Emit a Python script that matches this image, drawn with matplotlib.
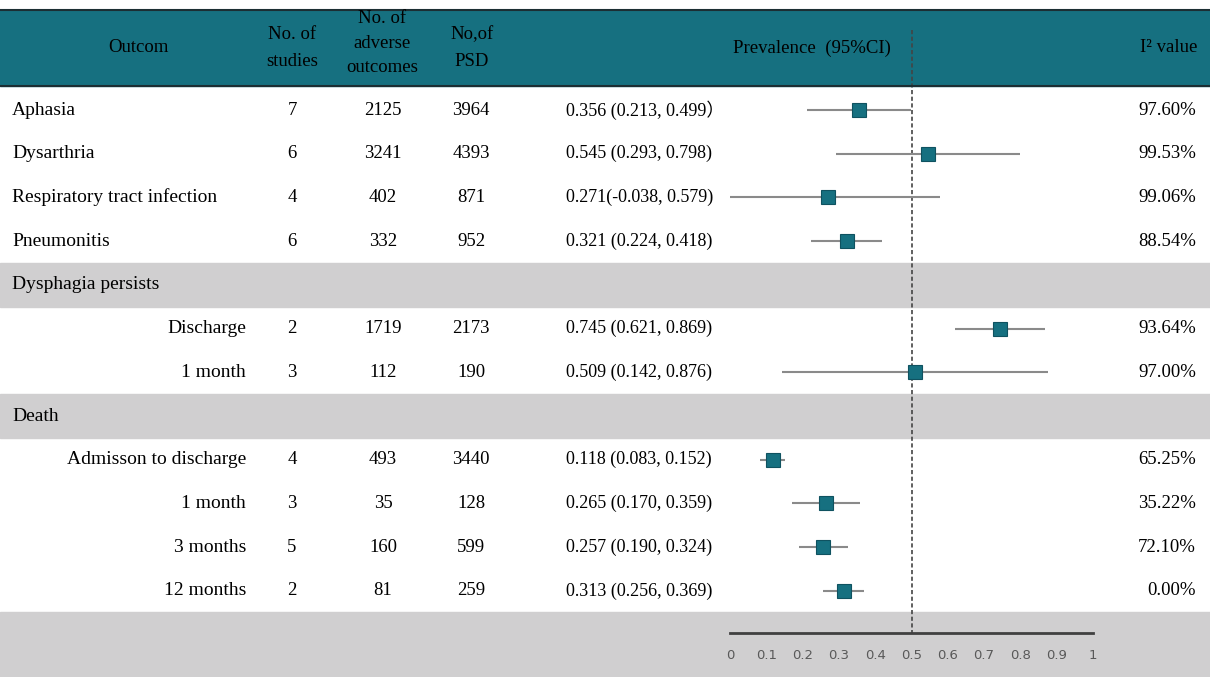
import matplotlib.pyplot as plt
import numpy as np

# table data
outcomes = ['Aphasia', 'Dysarthria', 'Respiratory tract infection', 'Pneumonitis',
            'Dysphagia persists', 'Discharge', '1 month',
            'Death', 'Admisson to discharge', '1 month', '3 months', '12 months']
is_group = [False, False, False, False, True, False, False, True, False, False, False, False]
is_sub = [False, False, False, False, False, True, True, False, True, True, True, True]
studies = ['7', '6', '4', '6', '', '2', '3', '', '4', '3', '5', '2']
adverse = ['2125', '3241', '402', '332', '', '1719', '112', '', '493', '35', '160', '81']
psd = ['3964', '4393', '871', '952', '', '2173', '190', '', '3440', '128', '599', '259']
ci_text = ['0.356 (0.213, 0.499\uff09', '0.545 (0.293, 0.798)', '0.271(-0.038, 0.579)',
           '0.321 (0.224, 0.418)', '', '0.745 (0.621, 0.869)', '0.509 (0.142, 0.876)', '',
           '0.118 (0.083, 0.152)', '0.265 (0.170, 0.359)', '0.257 (0.190, 0.324)',
           '0.313 (0.256, 0.369)']
est = [0.356, 0.545, 0.271, 0.321, np.nan, 0.745, 0.509, np.nan, 0.118, 0.265, 0.257, 0.313]
lo = [0.213, 0.293, -0.038, 0.224, np.nan, 0.621, 0.142, np.nan, 0.083, 0.170, 0.190, 0.256]
hi = [0.499, 0.798, 0.579, 0.418, np.nan, 0.869, 0.876, np.nan, 0.152, 0.359, 0.324, 0.369]
i2 = ['97.60%', '99.53%', '99.06%', '88.54%', '', '93.64%', '97.00%', '',
      '65.25%', '35.22%', '72.10%', '0.00%']
ticks = [0, 0.1, 0.2, 0.3, 0.4, 0.5, 0.6, 0.7, 0.8, 0.9, 1]
tick_labels = ['0', '0.1', '0.2', '0.3', '0.4', '0.5', '0.6', '0.7', '0.8', '0.9', '1']

teal = '#167080'
band = '#d0cfd0'
serif = ['Liberation Serif', 'Noto Sans CJK SC']

fig = plt.figure(figsize=(12.1, 6.77), dpi=100, facecolor='white')
ax = fig.add_axes([0, 0, 1, 1])
ax.set_axis_off()

# x in prevalence units (0 -> px 730, 1 -> px 1093), y in row units
def px(p):
    return (p - 730) / 363.0

ax.set_xlim(px(0), px(1210))
ax.set_ylim(12.97, -2.517)

n = len(outcomes)
rows = np.arange(n)

# header band
ax.axhspan(-2.29, -0.55, color=teal, zorder=0)
ax.axhline(-2.29, color='#1c2e33', lw=1.5, zorder=1)
ax.axhline(-0.55, color='#1c2e33', lw=1.5, zorder=4)

# grey group bands and bottom band
for i in rows:
    if is_group[i]:
        ax.axhspan(i - 0.5, i + 0.5, color=band, zorder=0)
ax.axhspan(11.49, 12.97, color=band, zorder=0)

# header text
hy = -1.42
fs = 13.5
ax.text(px(138), hy, 'Outcom', ha='center', va='center', fontsize=fs, family=serif)
ax.text(px(292), hy, 'No. of\nstudies', ha='center', va='center', fontsize=fs,
        family=serif, linespacing=1.75)
ax.text(px(382), -1.53, 'No. of\nadverse\noutcomes', ha='center', va='center',
        fontsize=fs, family=serif, linespacing=1.6)
ax.text(px(472), hy, 'No,of\nPSD', ha='center', va='center', fontsize=fs,
        family=serif, linespacing=1.75)
ax.text(px(812), hy, 'Prevalence  (95%CI)', ha='center', va='center', fontsize=fs, family=serif)
ax.text(px(1197), hy, 'I\u00b2 value', ha='right', va='center', fontsize=fs, family=serif)

# body text
for i in rows:
    if is_sub[i]:
        ax.text(px(246), i, outcomes[i], ha='right', va='center', fontsize=14, family=serif)
    else:
        ax.text(px(12), i, outcomes[i], ha='left', va='center', fontsize=14, family=serif)
    ax.text(px(292), i, studies[i], ha='center', va='center', fontsize=fs, family=serif)
    ax.text(px(383), i, adverse[i], ha='center', va='center', fontsize=fs, family=serif)
    ax.text(px(471), i, psd[i], ha='center', va='center', fontsize=fs, family=serif)
    ax.text(px(566), i, ci_text[i], ha='left', va='center', fontsize=13, family=serif)
    ax.text(px(1196), i, i2[i], ha='right', va='center', fontsize=fs, family=serif)

# forest plot
est_a = np.array(est)
lo_a = np.clip(np.array(lo), 0, 1)
hi_a = np.array(hi)
ok = ~np.isnan(est_a)
ax.hlines(rows[ok], lo_a[ok], hi_a[ok], color='#8a8a8a', lw=1.5, zorder=2)
ax.plot(est_a[ok], rows[ok], 's', ms=10, color=teal, mec='#0f5260', mew=0.8, zorder=3)

# reference line at 0.5
ax.plot([0.5, 0.5], [-1.83, 11.97], color='#444444', lw=1.2, ls=(0, (2.5, 1.5)), zorder=1)

# bottom axis
ax.plot([0, 1], [11.97, 11.97], color='#404040', lw=2, zorder=2)
for t, lab in zip(ticks, tick_labels):
    ax.text(t, 12.47, lab, ha='center', va='center', fontsize=9.5,
            family='DejaVu Sans', color='#595959')

fig.savefig('out.png', dpi=100, facecolor='white')
